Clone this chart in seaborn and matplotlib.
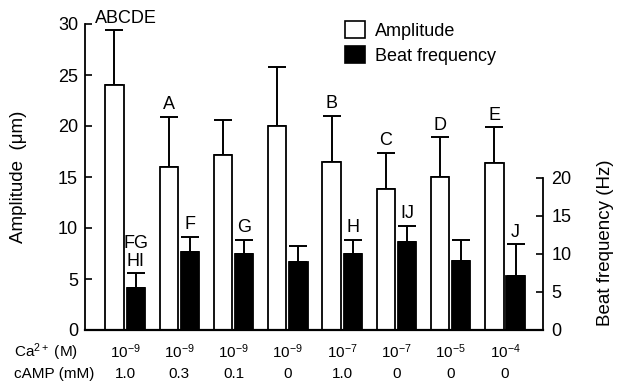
import numpy as np
import pandas as pd
import matplotlib
matplotlib.use("Agg")
import matplotlib.pyplot as plt
from matplotlib.patches import Patch
from matplotlib.transforms import blended_transform_factory
import seaborn as sns

# ---- data ----
ca_labels = [r"$\mathregular{10^{-9}}$"] * 4 + [r"$\mathregular{10^{-7}}$", r"$\mathregular{10^{-7}}$",
                                               r"$\mathregular{10^{-5}}$", r"$\mathregular{10^{-4}}$"]
camp_labels = ["1.0", "0.3", "0.1", "0", "1.0", "0", "0", "0"]
amplitude = [24.0, 16.0, 17.2, 20.0, 16.5, 13.8, 15.0, 16.4]
amplitude_err = [5.4, 4.9, 3.4, 5.8, 4.5, 3.6, 3.9, 3.5]
beat_freq = [5.5, 10.2, 10.0, 9.0, 10.0, 11.6, 9.1, 7.1]
beat_freq_err = [2.0, 2.1, 1.9, 2.0, 1.9, 2.1, 2.8, 4.2]
amp_letters = ["ABCDE", "A", "", "", "B", "C", "D", "E"]
freq_letters = ["FG\nHI", "F", "G", "", "H", "IJ", "", "J"]

sns.set_style("white")
plt.rcParams["font.family"] = ["Liberation Sans", "DejaVu Sans"]
plt.rcParams["mathtext.fontset"] = "custom"
plt.rcParams["mathtext.rm"] = "Liberation Sans"
plt.rcParams["mathtext.it"] = "Liberation Sans:italic"
plt.rcParams["mathtext.bf"] = "Liberation Sans:bold"
for k in ["text.color", "axes.labelcolor", "xtick.color", "ytick.color", "axes.edgecolor"]:
    plt.rcParams[k] = "black"

W, H = 621, 384
fig = plt.figure(figsize=(W / 100, H / 100), dpi=100)
ax = fig.add_axes([85 / W, 1 - 330 / H, (543 - 85) / W, (330 - 24) / H])
ax2 = ax.twinx()

n = len(amplitude)
pos = np.arange(n)
off = 0.195
bw = 0.335
df = pd.DataFrame({
    "xw": pos - off, "xb": pos + off,
    "amp": amplitude, "amp_err": amplitude_err,
    "freq": beat_freq, "freq_err": beat_freq_err,
})

lw = 1.3
sns.barplot(data=df, x="xw", y="amp", native_scale=True, width=bw, color="white",
            saturation=1, edgecolor="black", linewidth=lw, errorbar=None, ax=ax, zorder=2)
sns.barplot(data=df, x="xb", y="freq", native_scale=True, width=bw, color="black",
            saturation=1, edgecolor="black", linewidth=lw, errorbar=None, ax=ax2, zorder=2)

cap = 6.3
ax.errorbar(df["xw"], df["amp"], yerr=[np.zeros(n), df["amp_err"]], fmt="none",
            ecolor="black", elinewidth=1.4, capsize=cap, capthick=1.4, zorder=1)
ax2.errorbar(df["xb"], df["freq"], yerr=[np.zeros(n), df["freq_err"]], fmt="none",
             ecolor="black", elinewidth=1.4, capsize=cap, capthick=1.4, zorder=1)

fs = 13
for i in range(n):
    if amp_letters[i]:
        xx = df["xw"][i] + (0.22 if i == 0 else 0)
        ax.annotate(amp_letters[i], (xx, amplitude[i] + amplitude_err[i]),
                    xytext=(0, 2.5), textcoords="offset points", ha="center", va="bottom",
                    fontsize=fs)
    if freq_letters[i]:
        ax2.annotate(freq_letters[i], (df["xb"][i], beat_freq[i] + beat_freq_err[i]),
                     xytext=(0, 2.5), textcoords="offset points", ha="center", va="bottom",
                     fontsize=fs, linespacing=1.05)

# axes limits / scales
ax.set_xlim(-0.737, 7.70)
ax.set_ylim(0, 30)
ax2.set_ylim(0, 20 * 306 / 152)

ax.set_xticks([])
ax.set_xlabel("")
ax2.set_xlabel("")
ax.set_yticks([0, 5, 10, 15, 20, 25, 30])
ax2.set_yticks([0, 5, 10, 15, 20])
ax.tick_params(axis="y", direction="in", length=5, width=1.2, pad=5, labelsize=fs, left=True)
ax2.tick_params(axis="y", direction="in", length=5, width=1.2, pad=6, labelsize=fs, right=True)

for s in ["top", "right"]:
    ax.spines[s].set_visible(False)
for s in ["top", "left", "bottom"]:
    ax2.spines[s].set_visible(False)
ax.spines["left"].set_linewidth(1.3)
ax.spines["bottom"].set_linewidth(1.6)
ax2.spines["right"].set_linewidth(1.3)
ax2.spines["right"].set_bounds(0, 20)

ax.set_ylabel("Amplitude  (\u03bcm)", fontsize=13.5)
ax.yaxis.set_label_coords(-0.127, 0.5)
ax2.set_ylabel("Beat frequency (Hz)", fontsize=13.5)
ax2.yaxis.set_label_coords(1.118, 0.284)

# condition table below
tr = blended_transform_factory(ax.transData, fig.transFigure)
y1 = 1 - 352 / H
y2 = 1 - 374 / H
bfs = 11
fig.text(14 / W, y1, r"Ca$^{\mathregular{2+}}$ (M)", fontsize=bfs, va="center", ha="left")
fig.text(14 / W, y2, "cAMP (mM)", fontsize=bfs, va="center", ha="left")
for i in range(n):
    ax.text(pos[i], y1, ca_labels[i], transform=tr, fontsize=bfs, ha="center", va="center")
    ax.text(pos[i], y2, camp_labels[i], transform=tr, fontsize=bfs, ha="center", va="center")

handles = [Patch(facecolor="white", edgecolor="black", linewidth=1.2, label="Amplitude"),
           Patch(facecolor="black", edgecolor="black", linewidth=1.2, label="Beat frequency")]
fig.legend(handles=handles, loc="upper left", bbox_to_anchor=(345 / W, 1 - 21 / H),
           bbox_transform=fig.transFigure, frameon=False, fontsize=13,
           handlelength=1.1, handleheight=1.1, handletextpad=0.55, labelspacing=0.35,
           borderpad=0, borderaxespad=0)

fig.savefig("out.png", dpi=100)
